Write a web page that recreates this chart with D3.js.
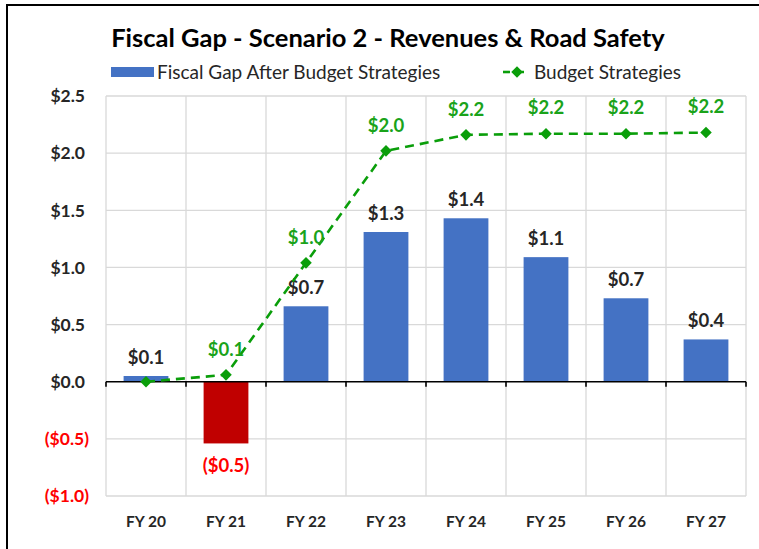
<!DOCTYPE html>
<html>
<head>
<meta charset="utf-8">
<script src="https://cdn.jsdelivr.net/npm/d3@7"></script>
<style>
  html, body { margin: 0; padding: 0; background: #fff; }
  svg { display: block; font-family: Lato, "Open Sans", sans-serif; }
</style>
</head>
<body>
<svg id="chart" width="759" height="549"></svg>
<script>
// Fiscal years on the category axis
const categories = ["FY 20", "FY 21", "FY 22", "FY 23", "FY 24", "FY 25", "FY 26", "FY 27"];
// Fiscal gap remaining after budget strategies ($ billions)
const gapValues = [0.05, -0.54, 0.66, 1.31, 1.43, 1.09, 0.73, 0.37];
// Cumulative value of budget strategies ($ billions)
const strategyValues = [0.0, 0.06, 1.04, 2.02, 2.16, 2.17, 2.17, 2.18];
// Value-axis ticks
const yTicks = [-1.0, -0.5, 0.0, 0.5, 1.0, 1.5, 2.0, 2.5];

const fmt = v => {
  const s = "$" + Math.abs(v).toFixed(1);
  return v < -0.0001 ? "(" + s + ")" : s;
};

const svg = d3.select("#chart");
const W = 759, H = 549;
const plot = { left: 106, right: 746, top: 96, bottom: 496 };

const blue = "#4472C4", red = "#C00000", green = "#0A9E0A", greenText = "#1AA31A";

// Outer frame (left and top edges)
svg.append("path")
  .attr("d", `M7,${H} L7,5 L${W},5`)
  .attr("fill", "none").attr("stroke", "#000").attr("stroke-width", 2);

const x = d3.scaleBand().domain(categories).range([plot.left, plot.right]).paddingInner(0).paddingOuter(0);
const y = d3.scaleLinear().domain([-1.0, 2.5]).range([plot.bottom, plot.top]);
const barPad = 0.44;
const bw = x.bandwidth() * (1 - barPad);
const cx = d => x(d) + x.bandwidth() / 2;

// Horizontal gridlines
svg.append("g").selectAll("line").data(yTicks.filter(t => t !== 0)).join("line")
  .attr("x1", plot.left).attr("x2", plot.right)
  .attr("y1", d => y(d)).attr("y2", d => y(d))
  .attr("stroke", "#D9D9D9").attr("stroke-width", 1.3);

// Vertical gridlines at category boundaries
const bounds = categories.map(c => x(c)).concat([plot.right]);
svg.append("g").selectAll("line").data(bounds).join("line")
  .attr("x1", d => d).attr("x2", d => d)
  .attr("y1", plot.top).attr("y2", plot.bottom)
  .attr("stroke", "#D9D9D9").attr("stroke-width", 1.3);

// Y-axis labels
svg.append("g").selectAll("text").data(yTicks).join("text")
  .attr("x", d => d < 0 ? 89 : 85)
  .attr("y", d => y(d))
  .attr("dy", "0.36em")
  .attr("text-anchor", "end")
  .attr("font-size", 17.5).attr("font-weight", 700)
  .attr("fill", d => d < 0 ? "#FF0000" : "#262626")
  .text(d => fmt(d));

// Bars
svg.append("g").selectAll("rect").data(categories).join("rect")
  .attr("x", (d) => cx(d) - bw / 2)
  .attr("width", bw)
  .attr("y", (d, i) => y(Math.max(0, gapValues[i])))
  .attr("height", (d, i) => Math.abs(y(gapValues[i]) - y(0)))
  .attr("fill", (d, i) => gapValues[i] < 0 ? red : blue);

// Zero axis with boundary ticks
svg.append("line")
  .attr("x1", plot.left).attr("x2", plot.right)
  .attr("y1", y(0)).attr("y2", y(0))
  .attr("stroke", "#000").attr("stroke-width", 1.6);
svg.append("g").selectAll("line").data(bounds).join("line")
  .attr("x1", d => d).attr("x2", d => d)
  .attr("y1", y(0)).attr("y2", y(0) + 5)
  .attr("stroke", "#000").attr("stroke-width", 1.6);

// Bar value labels
svg.append("g").selectAll("text").data(categories).join("text")
  .attr("x", d => cx(d))
  .attr("y", (d, i) => gapValues[i] < 0 ? y(gapValues[i]) + 22 : y(gapValues[i]) - 19)
  .attr("dy", "0.36em")
  .attr("text-anchor", "middle")
  .attr("font-size", 18.5).attr("font-weight", 700)
  .attr("fill", (d, i) => gapValues[i] < 0 ? "#FF0000" : "#262626")
  .text((d, i) => fmt(gapValues[i]));

// Budget strategies line
const line = d3.line().x((d, i) => cx(categories[i])).y(d => y(d));
svg.append("path")
  .datum(strategyValues)
  .attr("d", line)
  .attr("fill", "none")
  .attr("stroke", green).attr("stroke-width", 2.6)
  .attr("stroke-dasharray", "9,6");

const diamond = d3.symbol().type(d3.symbolDiamond2).size(85);
svg.append("g").selectAll("path").data(strategyValues).join("path")
  .attr("d", diamond)
  .attr("transform", (d, i) => `translate(${cx(categories[i])},${y(d)})`)
  .attr("fill", green);

svg.append("g").selectAll("text").data(strategyValues).join("text")
  .filter((d, i) => i > 0)
  .attr("x", (d, i) => cx(categories[i + 1]))
  .attr("y", d => y(d) - 26)
  .attr("dy", "0.36em")
  .attr("text-anchor", "middle")
  .attr("font-size", 18.5).attr("font-weight", 700)
  .attr("fill", greenText)
  .text(d => fmt(d));

// Category labels
svg.append("g").selectAll("text").data(categories).join("text")
  .attr("x", d => cx(d))
  .attr("y", 521)
  .attr("dy", "0.36em")
  .attr("text-anchor", "middle")
  .attr("font-size", 15.5).attr("font-weight", 700)
  .attr("fill", "#262626")
  .text(d => d);

// Title
svg.append("text")
  .attr("x", 388).attr("y", 38).attr("dy", "0.36em")
  .attr("text-anchor", "middle")
  .attr("font-size", 25.5).attr("font-weight", 700)
  .attr("fill", "#000")
  .text("Fiscal Gap - Scenario 2 - Revenues & Road Safety");

// Legend
const lg = svg.append("g");
lg.append("rect").attr("x", 111).attr("y", 67).attr("width", 43).attr("height", 10).attr("fill", blue);
lg.append("text").attr("x", 157).attr("y", 72).attr("dy", "0.36em")
  .attr("font-size", 19).attr("fill", "#262626")
  .text("Fiscal Gap After Budget Strategies");
lg.append("line").attr("x1", 503).attr("x2", 531).attr("y1", 72).attr("y2", 72)
  .attr("stroke", green).attr("stroke-width", 2.6).attr("stroke-dasharray", "7,7");
lg.append("path").attr("d", diamond).attr("transform", "translate(517,72)").attr("fill", green);
lg.append("text").attr("x", 534).attr("y", 72).attr("dy", "0.36em")
  .attr("font-size", 19).attr("fill", "#262626")
  .text("Budget Strategies");
</script>
</body>
</html>
